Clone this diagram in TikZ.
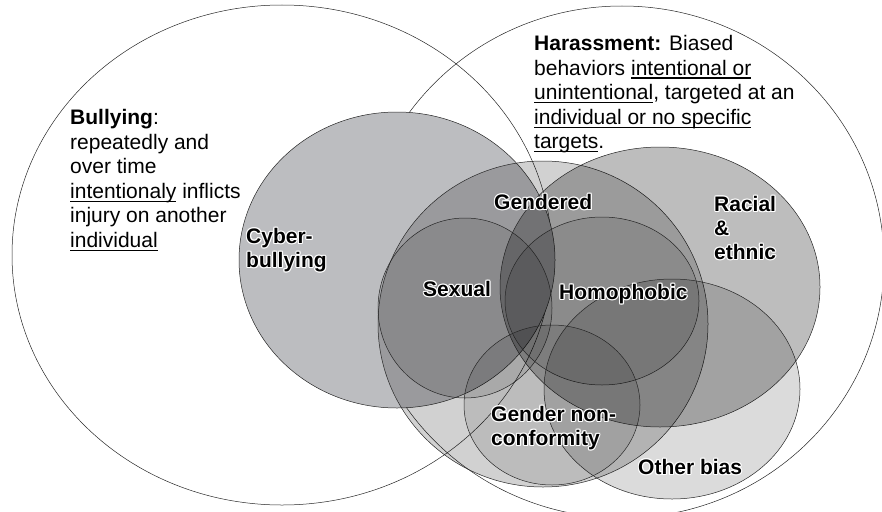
\documentclass[tikz,border=0pt]{standalone}
\usepackage{fontspec}
\setmainfont{Liberation Sans}
\usepackage{tikz}

\definecolor{cybergray}{RGB}{188,189,192}

\newsavebox{\ulbox}
\newcommand{\ul}[1]{\sbox{\ulbox}{#1}\rlap{\rule[-3.6pt]{\wd\ulbox}{1.2pt}}\usebox{\ulbox}}
\newcommand{\haloshift}[3]{\rlap{\kern#1\raisebox{#2}{\textcolor{white}{#3}}}}
\newcommand{\halo}[1]{\leavevmode
    \haloshift{-1.2pt}{0pt}{#1}\haloshift{1.2pt}{0pt}{#1}%
    \haloshift{0pt}{1.2pt}{#1}\haloshift{0pt}{-1.2pt}{#1}%
    \haloshift{-.85pt}{.85pt}{#1}\haloshift{.85pt}{.85pt}{#1}%
    \haloshift{-.85pt}{-.85pt}{#1}\haloshift{.85pt}{-.85pt}{#1}%
    #1}

\tikzset{
    venn/.style={draw=black!85, line width=0.5pt},
    bias/.style={venn, fill=black, fill opacity=#1},
    deftext/.style={anchor=north west, inner sep=0pt, align=left,
        font=\fontsize{21}{24.6}\selectfont},
    tag/.style={anchor=north west, inner sep=0pt, align=left,
        font=\fontsize{21}{24}\selectfont\bfseries},
}

\newcommand{\biasEllipse}[5]{
    \filldraw[bias=#5] (#1,#2) ellipse [x radius=#3, y radius=#4];
}

\begin{document}
\begin{tikzpicture}[x=1pt, y=-1pt]

    \useasboundingbox (0,0) rectangle (882,511);
    \clip (0,0) rectangle (882,511);

    % the two wide definitions
    \draw[venn] (282,255) ellipse [x radius=270, y radius=250];
    \draw[venn] (622,262) ellipse [x radius=262, y radius=256];

    \filldraw[venn, fill=cybergray] (397,260) ellipse [x radius=158, y radius=148];

    \biasEllipse{543}{324}{165}{163}{0.18}  % gendered
    \biasEllipse{660}{287}{160}{140}{0.26}  % racial
    \biasEllipse{465}{308}{87}{90}{0.10}    % sexual
    \biasEllipse{602}{301}{97}{84}{0.10}    % homophobic
    \biasEllipse{672}{389}{128}{110}{0.14}  % other bias
    \biasEllipse{552}{405}{88}{80}{0.10}    % gender non-conformity

    \node[deftext] (bullying) at (70,109)
        {\textbf{Bullying}:\\ repeatedly and\\ over time\\
         \ul{intentionaly} inflicts\\ injury on another\\ \ul{individual}};
    \node[deftext] (harassment) at (534,35)
        {\textbf{Harassment:} Biased\\ behaviors \ul{intentional or}\\
         \ul{unintentional}, targeted at an\\ \ul{individual or no specific}\\
         \ul{targets}.};

    \node[tag] (cyber) at (246,227) {\halo{Cyber-}\\ \halo{bullying}};
    \node[tag] (gendered) at (494,193) {\halo{Gendered}};
    \node[tag] (racial) at (714,195) {\halo{Racial}\\ \halo{\&}\\ \halo{ethnic}};
    \node[tag] (sexual) at (423,280) {\halo{Sexual}};
    \node[tag] (homophobic) at (559,283) {\halo{Homophobic}};
    \node[tag] (nonconf) at (491,405) {\halo{Gender non-}\\ \halo{conformity}};
    \node[tag] (other) at (638,458) {\halo{Other bias}};

\end{tikzpicture}
\end{document}
